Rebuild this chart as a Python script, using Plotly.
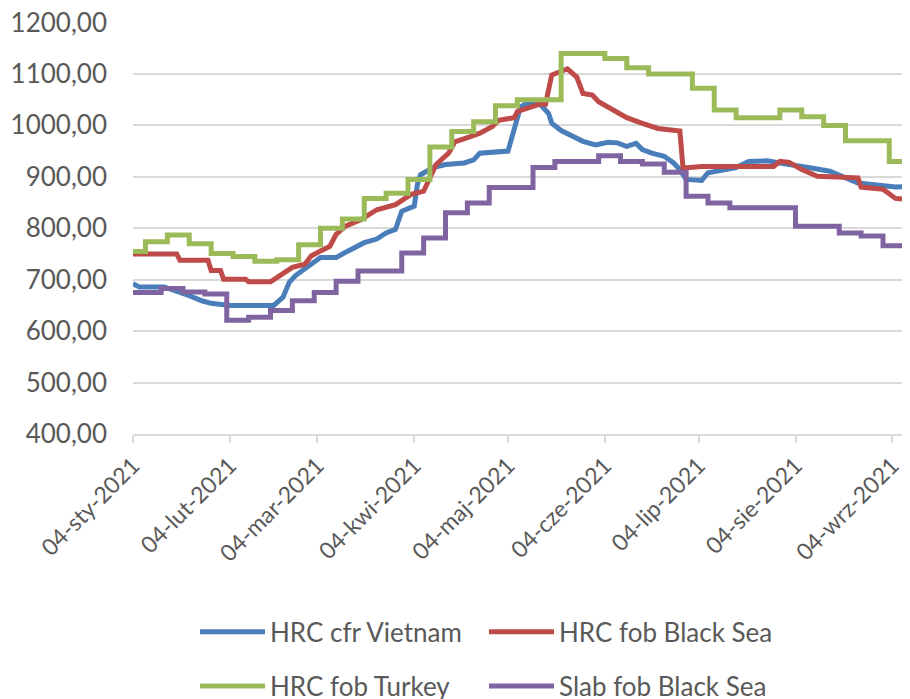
import plotly.graph_objects as go

# HRC cfr Vietnam (corner points, drawn as straight segments)
vietnam_dates = ["2021-01-04", "2021-01-06", "2021-01-14", "2021-01-18", "2021-01-22", "2021-01-26",
                 "2021-01-29", "2021-02-04", "2021-02-18", "2021-02-21", "2021-02-23", "2021-02-25",
                 "2021-02-27", "2021-03-02", "2021-03-05", "2021-03-10", "2021-03-12", "2021-03-16",
                 "2021-03-19", "2021-03-23", "2021-03-26", "2021-03-29", "2021-03-31", "2021-04-04",
                 "2021-04-05", "2021-04-06", "2021-04-10", "2021-04-14", "2021-04-20", "2021-04-23",
                 "2021-04-25", "2021-05-04", "2021-05-06", "2021-05-08", "2021-05-10", "2021-05-14",
                 "2021-05-17", "2021-05-18", "2021-05-21", "2021-05-24", "2021-05-28", "2021-06-01",
                 "2021-06-05", "2021-06-08", "2021-06-11", "2021-06-14", "2021-06-16", "2021-06-19",
                 "2021-06-23", "2021-06-26", "2021-06-28", "2021-06-30", "2021-07-05", "2021-07-07",
                 "2021-07-12", "2021-07-16", "2021-07-20", "2021-07-26", "2021-07-30", "2021-08-05",
                 "2021-08-10", "2021-08-15", "2021-08-20", "2021-08-24", "2021-08-30", "2021-09-05",
                 "2021-09-09"]
vietnam = [692, 686, 686, 678, 669, 659,
           654, 650, 650, 666, 695, 708,
           718, 730, 743, 743, 750, 762,
           772, 779, 791, 798, 833, 843,
           885, 904, 918, 924, 927, 933,
           946, 950, 995, 1036, 1043, 1043,
           1023, 1004, 990, 980, 969, 962,
           967, 966, 959, 965, 953, 946,
           940, 927, 914, 895, 893, 908,
           914, 918, 930, 931, 927, 920,
           916, 911, 898, 888, 884, 880,
           881]

# HRC fob Black Sea
blacksea_dates = ["2021-01-04", "2021-01-18", "2021-01-19", "2021-01-28", "2021-01-29", "2021-02-01",
                  "2021-02-02", "2021-02-09", "2021-02-10", "2021-02-17", "2021-02-20", "2021-02-24",
                  "2021-02-28", "2021-03-02", "2021-03-05", "2021-03-08", "2021-03-10", "2021-03-13",
                  "2021-03-18", "2021-03-23", "2021-03-29", "2021-04-03", "2021-04-07", "2021-04-11",
                  "2021-04-15", "2021-04-17", "2021-04-22", "2021-04-25", "2021-04-29", "2021-05-01",
                  "2021-05-06", "2021-05-07", "2021-05-10", "2021-05-14", "2021-05-16", "2021-05-18",
                  "2021-05-23", "2021-05-26", "2021-05-28", "2021-05-31", "2021-06-02", "2021-06-05",
                  "2021-06-08", "2021-06-11", "2021-06-16", "2021-06-21", "2021-06-28", "2021-06-29",
                  "2021-07-05", "2021-07-28", "2021-07-30", "2021-08-02", "2021-08-06", "2021-08-11",
                  "2021-08-24", "2021-08-25", "2021-09-01", "2021-09-05", "2021-09-09"]
blacksea = [750, 750, 738, 738, 718, 718,
            701, 701, 696, 696, 708, 724,
            730, 746, 756, 765, 788, 804,
            817, 836, 846, 866, 872, 924,
            946, 968, 978, 985, 998, 1010,
            1015, 1027, 1033, 1041, 1041, 1098,
            1110, 1094, 1062, 1059, 1046, 1036,
            1027, 1015, 1004, 994, 989, 917,
            920, 920, 930, 928, 914, 901,
            898, 880, 876, 858, 856]

# HRC fob Turkey (weekly steps)
turkey_dates = ["2021-01-04", "2021-01-08", "2021-01-15", "2021-01-22", "2021-01-29", "2021-02-05",
                "2021-02-12", "2021-02-19", "2021-02-26", "2021-03-05", "2021-03-12", "2021-03-19",
                "2021-03-26", "2021-04-02", "2021-04-09", "2021-04-16", "2021-04-23", "2021-04-30",
                "2021-05-07", "2021-05-14", "2021-05-21", "2021-05-28", "2021-06-04", "2021-06-11",
                "2021-06-18", "2021-06-25", "2021-07-02", "2021-07-09", "2021-07-16", "2021-07-23",
                "2021-07-30", "2021-08-06", "2021-08-13", "2021-08-20", "2021-08-27", "2021-09-03",
                "2021-09-08", "2021-09-09"]
turkey = [755, 774, 787, 770, 751, 745,
          736, 739, 768, 800, 818, 858,
          868, 895, 958, 988, 1007, 1038,
          1050, 1050, 1140, 1140, 1130, 1112,
          1100, 1100, 1072, 1030, 1015, 1015,
          1030, 1017, 1000, 970, 970, 930,
          905, 905]

# Slab fob Black Sea (weekly steps)
slab_dates = ["2021-01-04", "2021-01-13", "2021-01-20", "2021-01-27", "2021-02-03", "2021-02-10",
              "2021-02-17", "2021-02-24", "2021-03-03", "2021-03-10", "2021-03-17", "2021-03-24",
              "2021-03-31", "2021-04-07", "2021-04-14", "2021-04-21", "2021-04-28", "2021-05-05",
              "2021-05-12", "2021-05-19", "2021-05-26", "2021-06-02", "2021-06-09", "2021-06-16",
              "2021-06-23", "2021-06-30", "2021-07-07", "2021-07-14", "2021-07-21", "2021-07-28",
              "2021-08-04", "2021-08-11", "2021-08-18", "2021-08-25", "2021-09-01", "2021-09-08",
              "2021-09-09"]
slab = [675, 683, 676, 672, 621, 627,
        640, 659, 675, 697, 717, 717,
        752, 781, 830, 849, 879, 879,
        918, 930, 930, 941, 930, 925,
        909, 862, 849, 840, 840, 840,
        804, 804, 791, 785, 766, 743,
        743]

tick_dates = ["2021-01-04", "2021-02-04", "2021-03-04", "2021-04-04", "2021-05-04",
              "2021-06-04", "2021-07-04", "2021-08-04", "2021-09-04"]
tick_labels = ["04-sty-2021", "04-lut-2021", "04-mar-2021", "04-kwi-2021", "04-maj-2021",
               "04-cze-2021", "04-lip-2021", "04-sie-2021", "04-wrz-2021"]

grey = "#595959"
fig = go.Figure()
fig.add_trace(go.Scatter(x=vietnam_dates, y=vietnam, name="HRC cfr Vietnam", mode="lines",
                         line=dict(color="#4a7ebb", width=5), legend="legend"))
fig.add_trace(go.Scatter(x=blacksea_dates, y=blacksea, name="HRC fob Black Sea", mode="lines",
                         line=dict(color="#be4b48", width=5), legend="legend"))
fig.add_trace(go.Scatter(x=turkey_dates, y=turkey, name="HRC fob Turkey", mode="lines",
                         line=dict(color="#9bbb59", width=5, shape="hv"), legend="legend2"))
fig.add_trace(go.Scatter(x=slab_dates, y=slab, name="Slab fob Black Sea", mode="lines",
                         line=dict(color="#8064a2", width=5, shape="hv"), legend="legend2"))

# page is shown with an 8px body margin, so the figure is a bit smaller than the window
legend_style = dict(orientation="h", xanchor="left", yanchor="middle", x=0.08,
                    itemwidth=65, entrywidth=209, font=dict(size=26, color=grey),
                    bgcolor="rgba(0,0,0,0)")
fig.update_layout(
    width=902, height=691,
    margin=dict(l=125, r=2, t=14, b=265, autoexpand=False),
    paper_bgcolor="white", plot_bgcolor="white",
    font=dict(family="Lato", color=grey),
    separators=", ",
    legend=dict(legend_style, y=-0.48),
    legend2=dict(legend_style, y=-0.612),
    xaxis=dict(range=["2021-01-04", "2021-09-09"], tickvals=tick_dates, ticktext=tick_labels,
               tickangle=-45, tickfont=dict(size=23, color=grey), showgrid=False,
               showline=True, linecolor="#d9d9d9", linewidth=2,
               ticks="outside", ticklen=7, tickcolor="#d9d9d9", tickwidth=2),
    yaxis=dict(range=[400, 1201], dtick=100, tickformat=".2f", tickfont=dict(size=26, color=grey),
               showgrid=True, gridcolor="#d9d9d9", gridwidth=2, zeroline=False,
               showline=False, ticks="", ticklabelstandoff=25, ticklabeloverflow="allow"),
)
fig.write_html("out.html")
